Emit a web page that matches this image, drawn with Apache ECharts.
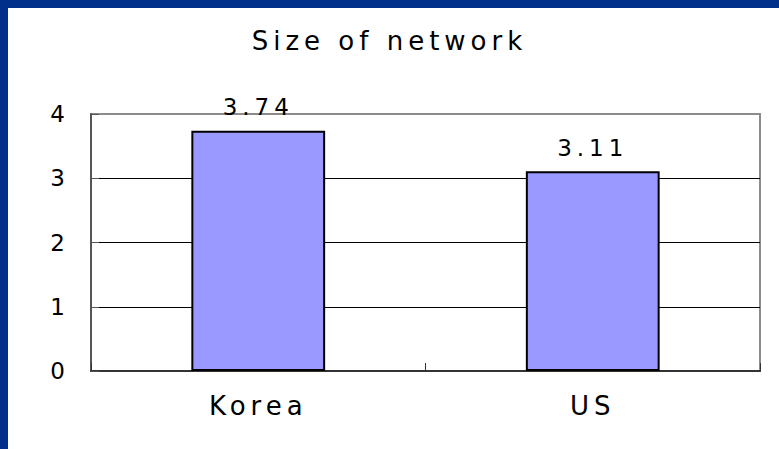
<!DOCTYPE html>
<html>
<head>
<meta charset="utf-8">
<script src="https://cdn.jsdelivr.net/npm/echarts@6/dist/echarts.min.js"></script>
<style>
  html, body { margin: 0; padding: 0; background: #ffffff; }
  #chart { width: 779px; height: 449px; }
  #chart text { letter-spacing: 5px; }
</style>
</head>
<body>
<div id="chart"></div>
<script>
const titleText = 'Size of network';
const categories = ['Korea', 'US'];
const values = [3.74, 3.11];
const yTicks = [0, 1, 2, 3, 4];

const FONT = "'DejaVu Sans', 'Liberation Sans', sans-serif";
const chart = echarts.init(document.getElementById('chart'), null, { renderer: 'svg' });

chart.setOption({
  backgroundColor: '#00308a',
  animation: false,
  graphic: [{
    type: 'rect',
    z: -10,
    shape: { x: 8, y: 8, width: 779, height: 449 },
    style: { fill: '#ffffff' },
    silent: true
  }],
  title: {
    text: titleText,
    left: 'center',
    top: 28,
    padding: [0, 0, 0, 26],
    textStyle: { fontFamily: FONT, fontSize: 26, fontWeight: 'normal', color: '#000' }
  },
  grid: {
    left: 91, right: 19, top: 114, bottom: 78,
    show: true,
    borderColor: '#8c8c8c',
    borderWidth: 2,
    backgroundColor: 'transparent'
  },
  xAxis: {
    type: 'category',
    data: categories,
    axisLine: { show: true, lineStyle: { color: '#333', width: 2 } },
    axisTick: { show: true, inside: true, length: 8, lineStyle: { color: '#333', width: 1 } },
    axisLabel: { margin: 22, fontFamily: FONT, fontSize: 26, color: '#000' },
    splitLine: { show: false }
  },
  yAxis: {
    type: 'value',
    min: yTicks[0],
    max: yTicks[yTicks.length - 1],
    interval: 1,
    axisLine: { show: true, lineStyle: { color: '#555', width: 2 } },
    axisTick: { show: true, inside: true, length: 8, lineStyle: { color: '#555', width: 1 } },
    axisLabel: { margin: 21, fontFamily: FONT, fontSize: 23, color: '#000', padding: [5, 0, 0, 0] },
    splitLine: { show: true, showMinLine: false, showMaxLine: false, lineStyle: { color: '#000', width: 1 } }
  },
  series: [{
    type: 'bar',
    data: values,
    barWidth: '40%',
    itemStyle: { color: '#9999ff', borderColor: '#000', borderWidth: 2 },
    label: {
      show: true,
      position: 'top',
      distance: 12,
      fontFamily: FONT,
      fontSize: 23,
      color: '#000'
    }
  }]
});
</script>
</body>
</html>
